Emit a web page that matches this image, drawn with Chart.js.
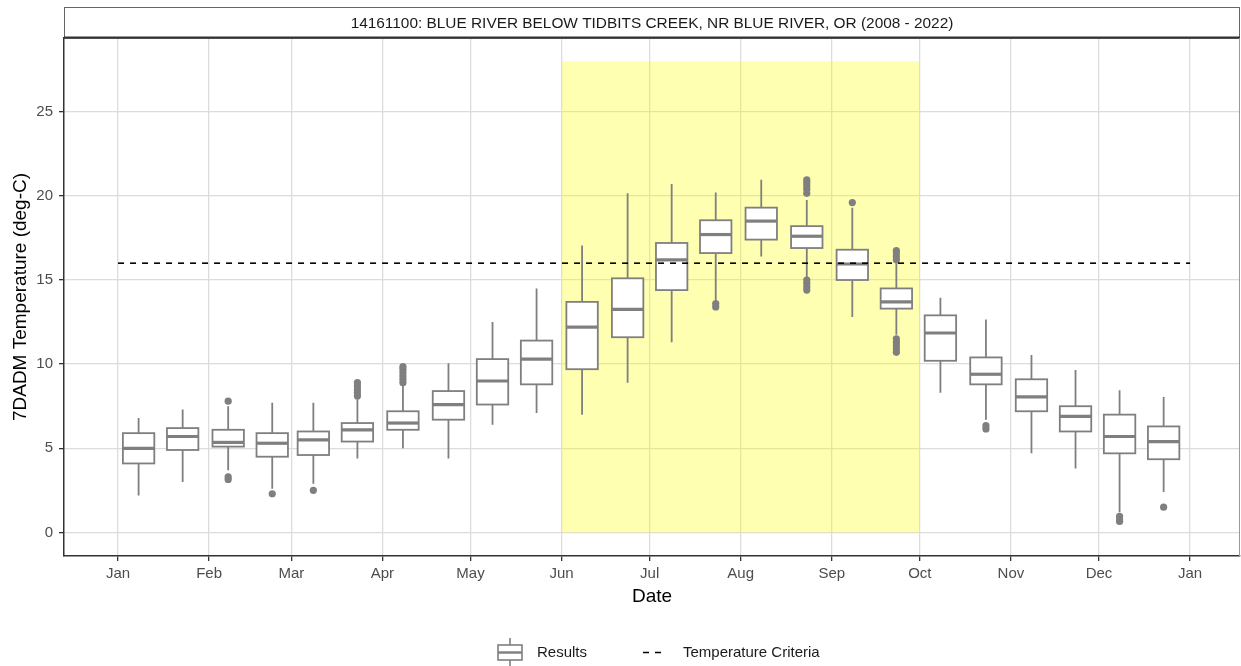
<!DOCTYPE html>
<html>
<head>
<meta charset="utf-8">
<script src="https://cdn.jsdelivr.net/npm/chart.js@4"></script>
<style>
  html, body { margin: 0; padding: 0; background: #fff; }
  #wrap { position: relative; width: 1241px; height: 666px; font-family: "Liberation Sans", Arial, sans-serif; }
  #legend { position: absolute; left: 0; top: 637px; width: 1241px; height: 30px; }
  .lg-text { position: absolute; top: 6px; font-size: 15px; color: #1a1a1a; }
</style>
</head>
<body>
<div id="wrap">
  <canvas id="chart" width="1241" height="666"></canvas>
  <div id="legend">
    <svg style="position:absolute;left:495px;top:0" width="30" height="30">
      <line x1="15" y1="1" x2="15" y2="8" stroke="#7f7f7f" stroke-width="1.6"/>
      <line x1="15" y1="23" x2="15" y2="29" stroke="#7f7f7f" stroke-width="1.6"/>
      <rect x="3" y="8" width="24" height="15" fill="#fff" stroke="#7f7f7f" stroke-width="1.6"/>
      <line x1="3" y1="15.5" x2="27" y2="15.5" stroke="#7f7f7f" stroke-width="2.4"/>
    </svg>
    <span class="lg-text" style="left:537px">Results</span>
    <svg style="position:absolute;left:641px;top:0" width="26" height="30">
      <line x1="2" y1="15.5" x2="24" y2="15.5" stroke="#000" stroke-width="1.6" stroke-dasharray="6,6"/>
    </svg>
    <span class="lg-text" style="left:683px">Temperature Criteria</span>
  </div>
</div>
<script>
// ========== Data ==========
const stripTitle = '14161100: BLUE RIVER BELOW TIDBITS CREEK, NR BLUE RIVER, OR (2008 - 2022)';

// half-month periods, position = day of year
const periods = ['Jan 1-15','Jan 16-31','Feb 1-14','Feb 15-28','Mar 1-15','Mar 16-31',
  'Apr 1-15','Apr 16-30','May 1-15','May 16-31','Jun 1-15','Jun 16-30',
  'Jul 1-15','Jul 16-31','Aug 1-15','Aug 16-31','Sep 1-15','Sep 16-30',
  'Oct 1-15','Oct 16-31','Nov 1-15','Nov 16-30','Dec 1-15','Dec 16-31'];
const periodDay = [7, 22, 37.5, 52.5, 66.5, 81.5, 97, 112.5, 127.5, 142.5, 158, 173.5,
  188.5, 203.5, 219, 234.5, 250, 265, 280, 295.5, 311, 326, 341, 356];

const whiskerLow  = [2.2, 3.0, 3.7, 2.6, 2.9, 4.4, 5.0, 4.4, 6.4, 7.1, 7.0, 8.9,
  11.3, 13.8, 16.4, 15.1, 12.8, 11.75, 8.3, 6.7, 4.7, 3.8, 1.2, 2.4];
const q1          = [4.1, 4.9, 5.1, 4.5, 4.6, 5.4, 6.1, 6.7, 7.6, 8.8, 9.7, 11.6,
  14.4, 16.6, 17.4, 16.9, 15.0, 13.3, 10.2, 8.8, 7.2, 6.0, 4.7, 4.35];
const median      = [5.0, 5.7, 5.35, 5.3, 5.5, 6.1, 6.5, 7.6, 9.0, 10.3, 12.2, 13.25,
  16.2, 17.7, 18.5, 17.6, 15.95, 13.7, 11.85, 9.4, 8.05, 6.9, 5.7, 5.4];
const q3          = [5.9, 6.2, 6.1, 5.9, 6.0, 6.5, 7.2, 8.4, 10.3, 11.4, 13.7, 15.1,
  17.2, 18.55, 19.3, 18.2, 16.8, 14.5, 12.9, 10.4, 9.1, 7.5, 7.0, 6.3];
const whiskerHigh = [6.8, 7.3, 7.5, 7.7, 7.7, 7.9, 8.7, 10.05, 12.5, 14.5, 17.05, 20.15,
  20.7, 20.2, 20.95, 19.75, 19.3, 16.0, 13.95, 12.65, 10.55, 9.65, 8.45, 8.05];

// outliers: period index + value
const outlierIdx = [2, 2, 2, 3, 4, 5, 5, 5, 5, 5, 6, 6, 6, 6, 6, 6,
  13, 13, 15, 15, 15, 15, 15, 15, 15, 15, 15, 16,
  17, 17, 17, 17, 17, 17, 17, 17, 17, 19, 19, 22, 22, 22, 23];
const outlierVal = [7.8, 3.3, 3.15, 2.3, 2.5, 8.1, 8.3, 8.5, 8.7, 8.9, 8.9, 9.1, 9.3, 9.5, 9.7, 9.85,
  13.6, 13.4, 20.15, 20.4, 20.6, 20.8, 20.95, 15.0, 14.8, 14.6, 14.4, 19.6,
  16.2, 16.4, 16.6, 16.75, 11.5, 11.3, 11.1, 10.9, 10.7, 6.35, 6.15, 0.95, 0.75, 0.65, 1.5];

const criteriaValue = 16;
const criteriaStart = 0, criteriaEnd = 365;

// critical period shading (Jun 1 - Oct 1)
const shadeStart = 151, shadeEnd = 273, shadeLow = 0, shadeHigh = 28;

const monthDays   = [0, 31, 59, 90, 120, 151, 181, 212, 243, 273, 304, 334, 365];
const monthLabels = ['Jan','Feb','Mar','Apr','May','Jun','Jul','Aug','Sep','Oct','Nov','Dec','Jan'];
const yTicks = [0, 5, 10, 15, 20, 25];

const BOX_WIDTH = 10.7; // days
const GREY = '#7f7f7f';

// ========== Plugins ==========
const stripPlugin = {
  id: 'strip',
  afterDraw(chart) {
    const { ctx, chartArea: a } = chart;
    ctx.save();
    ctx.fillStyle = '#fff';
    ctx.strokeStyle = '#666';
    ctx.lineWidth = 1;
    ctx.fillRect(a.left, 7, a.right - a.left, a.top - 7);
    ctx.strokeRect(a.left + 0.5, 7.5, a.right - a.left - 1, a.top - 7);
    ctx.strokeStyle = '#333';
    ctx.lineWidth = 2;
    ctx.beginPath();
    ctx.moveTo(a.left, a.top - 0.5);
    ctx.lineTo(a.right, a.top - 0.5);
    ctx.stroke();
    // right panel border
    ctx.strokeStyle = '#999';
    ctx.lineWidth = 1;
    ctx.beginPath();
    ctx.moveTo(a.right - 0.5, a.top);
    ctx.lineTo(a.right - 0.5, a.bottom);
    ctx.stroke();
    ctx.fillStyle = '#1a1a1a';
    ctx.font = '15.4px "Liberation Sans", Arial, sans-serif';
    ctx.textAlign = 'center';
    ctx.textBaseline = 'middle';
    ctx.fillText(stripTitle, (a.left + a.right) / 2, (7 + a.top) / 2 + 1);
    ctx.restore();
  }
};

const shadeAndBoxPlugin = {
  id: 'shadeAndBox',
  beforeDatasetsDraw(chart) {
    const { ctx, chartArea: a, scales: { x, y } } = chart;
    ctx.save();
    ctx.beginPath();
    ctx.rect(a.left, a.top, a.right - a.left, a.bottom - a.top);
    ctx.clip();

    // yellow shading
    const sx0 = x.getPixelForValue(shadeStart), sx1 = x.getPixelForValue(shadeEnd);
    const sy0 = y.getPixelForValue(shadeHigh), sy1 = y.getPixelForValue(shadeLow);
    ctx.fillStyle = 'rgba(255,255,0,0.3)';
    ctx.fillRect(sx0, sy0, sx1 - sx0, sy1 - sy0);

    // boxes
    ctx.strokeStyle = GREY;
    periodDay.forEach((d, i) => {
      const cx = x.getPixelForValue(d);
      const xl = x.getPixelForValue(d - BOX_WIDTH / 2);
      const xr = x.getPixelForValue(d + BOX_WIDTH / 2);
      const yLo = y.getPixelForValue(whiskerLow[i]);
      const yQ1 = y.getPixelForValue(q1[i]);
      const yMed = y.getPixelForValue(median[i]);
      const yQ3 = y.getPixelForValue(q3[i]);
      const yHi = y.getPixelForValue(whiskerHigh[i]);

      ctx.lineWidth = 1.8;
      ctx.beginPath();
      ctx.moveTo(cx, yHi); ctx.lineTo(cx, yQ3);
      ctx.moveTo(cx, yQ1); ctx.lineTo(cx, yLo);
      ctx.stroke();

      ctx.fillStyle = '#fff';
      ctx.fillRect(xl, yQ3, xr - xl, yQ1 - yQ3);
      ctx.strokeRect(xl, yQ3, xr - xl, yQ1 - yQ3);

      ctx.lineWidth = 3.2;
      ctx.beginPath();
      ctx.moveTo(xl, yMed); ctx.lineTo(xr, yMed);
      ctx.stroke();
    });
    ctx.restore();
  }
};

// ========== Chart ==========
const font = '"Liberation Sans", Arial, sans-serif';

new Chart(document.getElementById('chart').getContext('2d'), {
  data: {
    datasets: [
      {
        type: 'line',
        label: 'Temperature Criteria',
        data: [{ x: criteriaStart, y: criteriaValue }, { x: criteriaEnd, y: criteriaValue }],
        borderColor: '#000',
        borderWidth: 1.6,
        borderDash: [6, 6],
        pointRadius: 0,
        fill: false
      },
      {
        type: 'scatter',
        label: 'Outliers',
        data: outlierIdx.map((p, k) => ({ x: periodDay[p], y: outlierVal[k] })),
        backgroundColor: GREY,
        borderColor: GREY,
        borderWidth: 0,
        pointRadius: 3.6
      }
    ]
  },
  options: {
    responsive: false,
    animation: false,
    layout: { autoPadding: false, padding: { top: 38, right: 1, bottom: 58, left: 0 } },
    plugins: {
      legend: { display: false },
      tooltip: { enabled: false }
    },
    scales: {
      x: {
        type: 'linear',
        min: -18.4,
        max: 382,
        afterBuildTicks: s => { s.ticks = monthDays.map(v => ({ value: v })); },
        afterFit: s => { s.height = 52; s.paddingLeft = 0; s.paddingRight = 0; },
        ticks: {
          autoSkip: false,
          maxRotation: 0,
          padding: 4,
          color: '#4d4d4d',
          font: { family: font, size: 15 },
          callback: (v, i) => monthLabels[i]
        },
        grid: { color: '#dcdcdc', lineWidth: 1.3, tickLength: 5, tickColor: '#333', tickWidth: 1.3 },
        border: { display: true, color: '#333', width: 1.5 },
        title: { display: true, text: 'Date', color: '#000', font: { family: font, size: 19 }, padding: { top: 2, bottom: 0 } }
      },
      y: {
        min: -1.4,
        max: 29.38,
        afterBuildTicks: s => { s.ticks = yTicks.map(v => ({ value: v })); },
        afterFit: s => { s.width = 64; s.paddingTop = 0; s.paddingBottom = 0; },
        ticks: {
          padding: 6,
          color: '#4d4d4d',
          font: { family: font, size: 15 }
        },
        grid: { color: '#dcdcdc', lineWidth: 1.3, tickLength: 5, tickColor: '#333', tickWidth: 1.3 },
        border: { display: true, color: '#333', width: 1.5 },
        title: { display: true, text: '7DADM Temperature (deg-C)', color: '#000', font: { family: font, size: 19 }, padding: { top: 9, bottom: 4 } }
      }
    }
  },
  plugins: [shadeAndBoxPlugin, stripPlugin]
});
</script>
</body>
</html>
